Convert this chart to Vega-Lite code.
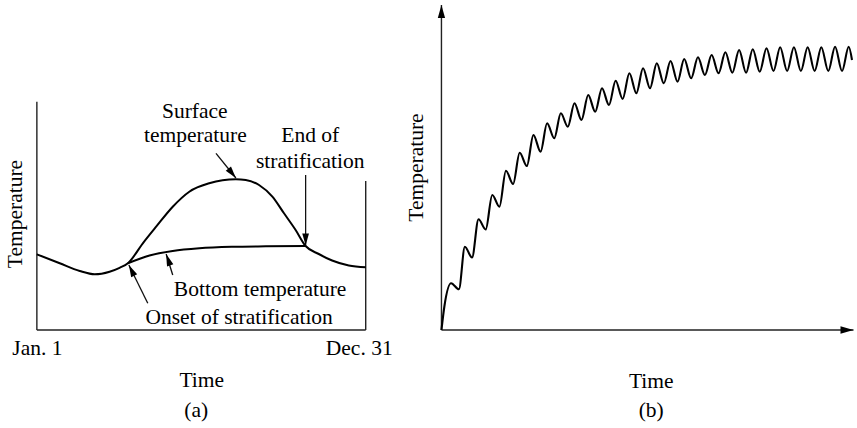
{
  "$schema": "https://vega.github.io/schema/vega-lite/v6.json",
  "width": 857,
  "height": 428,
  "autosize": {"type": "fit", "contains": "padding"},
  "padding": 0,
  "background": "white",
  "config": {
    "view": {"stroke": null},
    "text": {"font": "Liberation Serif", "fontSize": 21.5, "color": "#000000"}
  },
  "datasets": {
    "curveA": [
      {"series": "Surface", "day": 0, "T": 7.57},
      {"series": "Surface", "day": 25.4, "T": 6.67},
      {"series": "Surface", "day": 47.6, "T": 5.9},
      {"series": "Surface", "day": 64.2, "T": 5.57},
      {"series": "Surface", "day": 80.7, "T": 5.83},
      {"series": "Surface", "day": 91.8, "T": 6.22},
      {"series": "Surface", "day": 101.0, "T": 6.67},
      {"series": "Surface", "day": 117.6, "T": 8.67},
      {"series": "Surface", "day": 132.4, "T": 10.33},
      {"series": "Surface", "day": 150.8, "T": 12.33},
      {"series": "Surface", "day": 169.2, "T": 13.83},
      {"series": "Surface", "day": 191.3, "T": 14.67},
      {"series": "Surface", "day": 220.9, "T": 15.07},
      {"series": "Surface", "day": 231.9, "T": 15.0},
      {"series": "Surface", "day": 246.6, "T": 14.5},
      {"series": "Surface", "day": 261.4, "T": 13.33},
      {"series": "Surface", "day": 274.3, "T": 11.67},
      {"series": "Surface", "day": 287.2, "T": 10.0},
      {"series": "Surface", "day": 298.3, "T": 8.4},
      {"series": "Surface", "day": 312.9, "T": 7.6},
      {"series": "Surface", "day": 327.7, "T": 6.95},
      {"series": "Surface", "day": 346.2, "T": 6.45},
      {"series": "Surface", "day": 365, "T": 6.27},
      {"series": "Bottom", "day": 101.0, "T": 6.67},
      {"series": "Bottom", "day": 125.0, "T": 7.45},
      {"series": "Bottom", "day": 150.8, "T": 7.9},
      {"series": "Bottom", "day": 180.3, "T": 8.17},
      {"series": "Bottom", "day": 217.1, "T": 8.32},
      {"series": "Bottom", "day": 254.1, "T": 8.37},
      {"series": "Bottom", "day": 298.3, "T": 8.4}
    ],
    "frameA": [
      {"day": 0, "T": 0, "day2": 0, "T2": 22.83},
      {"day": 0, "T": 0, "day2": 365, "T2": 0},
      {"day": 365, "T": 0, "day2": 365, "T2": 14.9}
    ],
    "arrowsA": [
      {"name": "surface", "day": 198.8, "T": 17.67, "day2": 220.9, "T2": 15.2},
      {"name": "end", "day": 298.3, "T": 15.5, "day2": 298.3, "T2": 8.45},
      {"name": "bottom", "day": 150.8, "T": 5.5, "day2": 143.5, "T2": 7.6},
      {"name": "onset", "day": 123.1, "T": 2.67, "day2": 102.1, "T2": 6.5}
    ],
    "labelsA": [
      {"label": "Surface", "day": 175.3, "T": 21.17},
      {"label": "temperature", "day": 175.9, "T": 18.8},
      {"label": "End of", "day": 303.4, "T": 18.83},
      {"label": "stratification", "day": 303.4, "T": 16.17},
      {"label": "Bottom temperature", "day": 247.8, "T": 3.4},
      {"label": "Onset of stratification", "day": 224.5, "T": 0.57},
      {"label": "Jan. 1", "day": 0.55, "T": -2.5},
      {"label": "Dec. 31", "day": 357.8, "T": -2.5},
      {"label": "Time", "day": 183.0, "T": -5.7},
      {"label": "(a)", "day": 176.9, "T": -8.7}
    ],
    "ytitleA": [{"label": "Temperature", "day": -23.2, "T": 11.6}],
    "curveB": [
      {"t": 0, "T": 0}, {"t": 0.3, "T": 2.4},
      {"t": 0.97, "T": 4.67}, {"t": 1.75, "T": 4.07},
      {"t": 2.35, "T": 8.33}, {"t": 3.07, "T": 7.25},
      {"t": 3.72, "T": 11.07}, {"t": 4.44, "T": 10.05},
      {"t": 5.10, "T": 13.5}, {"t": 5.82, "T": 12.33},
      {"t": 6.47, "T": 15.93}, {"t": 7.19, "T": 14.6},
      {"t": 7.85, "T": 17.73}, {"t": 8.57, "T": 16.4},
      {"t": 9.23, "T": 19.5}, {"t": 9.95, "T": 17.83},
      {"t": 10.60, "T": 20.67}, {"t": 11.32, "T": 19.17},
      {"t": 11.98, "T": 21.67}, {"t": 12.68, "T": 20.33},
      {"t": 13.35, "T": 22.67}, {"t": 14.05, "T": 21.0},
      {"t": 14.73, "T": 23.5}, {"t": 15.43, "T": 21.83},
      {"t": 16.11, "T": 24.17}, {"t": 16.81, "T": 22.5},
      {"t": 17.48, "T": 24.93}, {"t": 18.18, "T": 23.1},
      {"t": 18.86, "T": 25.67}, {"t": 19.56, "T": 23.67},
      {"t": 20.23, "T": 26.17}, {"t": 20.93, "T": 24.17},
      {"t": 21.61, "T": 26.67}, {"t": 22.31, "T": 24.67},
      {"t": 22.99, "T": 26.9}, {"t": 23.69, "T": 24.83},
      {"t": 24.36, "T": 27.1}, {"t": 25.06, "T": 25.17},
      {"t": 25.74, "T": 27.27}, {"t": 26.44, "T": 25.5},
      {"t": 27.11, "T": 27.5}, {"t": 27.81, "T": 25.67},
      {"t": 28.49, "T": 27.77}, {"t": 29.19, "T": 25.73},
      {"t": 29.87, "T": 28.0}, {"t": 30.57, "T": 25.73},
      {"t": 31.24, "T": 28.07}, {"t": 31.94, "T": 25.83},
      {"t": 32.62, "T": 28.17}, {"t": 33.32, "T": 25.9},
      {"t": 33.99, "T": 28.27}, {"t": 34.69, "T": 25.9},
      {"t": 35.37, "T": 28.27}, {"t": 36.07, "T": 25.9},
      {"t": 36.75, "T": 28.27}, {"t": 37.45, "T": 25.9},
      {"t": 38.12, "T": 28.27}, {"t": 38.82, "T": 25.9},
      {"t": 39.50, "T": 28.33}, {"t": 40.20, "T": 25.9},
      {"t": 40.87, "T": 28.33}, {"t": 41.2, "T": 27.0}
    ],
    "axesB": [
      {"name": "y", "t": 0, "T": 0, "t2": 0, "T2": 32.5},
      {"name": "x", "t": 0, "T": 0, "t2": 41.35, "T2": 0}
    ],
    "labelsB": [
      {"label": "Time", "t": 21.05, "T": -5.77},
      {"label": "(b)", "t": 21.05, "T": -8.7}
    ],
    "ytitleB": [{"label": "Temperature", "t": -2.5, "T": 16.25}]
  },
  "layer": [
    {
      "encoding": {
        "x": {"field": "day", "type": "quantitative", "scale": {"domain": [-40.92, 906.97], "nice": false, "zero": false}, "axis": null},
        "y": {"field": "T", "type": "quantitative", "scale": {"domain": [-9.8, 33], "nice": false, "zero": false}, "axis": null}
      },
      "layer": [
        {
          "data": {"name": "frameA"},
          "mark": {"type": "rule", "color": "#222222", "strokeWidth": 1.4},
          "encoding": {"x2": {"field": "day2"}, "y2": {"field": "T2"}}
        },
        {
          "data": {"name": "curveA"},
          "mark": {"type": "line", "interpolate": "monotone", "color": "#000000", "strokeWidth": 2},
          "encoding": {"detail": {"field": "series", "type": "nominal"}}
        },
        {
          "data": {"name": "arrowsA"},
          "mark": {"type": "rule", "color": "#111111", "strokeWidth": 1.3},
          "encoding": {"x2": {"field": "day2"}, "y2": {"field": "T2"}}
        },
        {
          "data": {"name": "arrowsA"},
          "transform": [{"filter": "datum.name === 'surface'"}],
          "mark": {"type": "point", "shape": "M0,0L0.28,1L-0.28,1Z", "size": 576, "angle": 141.3, "filled": true, "opacity": 1, "color": "#000000"},
          "encoding": {"x": {"field": "day2", "type": "quantitative"}, "y": {"field": "T2", "type": "quantitative"}}
        },
        {
          "data": {"name": "arrowsA"},
          "transform": [{"filter": "datum.name === 'end'"}],
          "mark": {"type": "point", "shape": "M0,0L0.28,1L-0.28,1Z", "size": 576, "angle": 180, "filled": true, "opacity": 1, "color": "#000000"},
          "encoding": {"x": {"field": "day2", "type": "quantitative"}, "y": {"field": "T2", "type": "quantitative"}}
        },
        {
          "data": {"name": "arrowsA"},
          "transform": [{"filter": "datum.name === 'bottom'"}],
          "mark": {"type": "point", "shape": "M0,0L0.28,1L-0.28,1Z", "size": 576, "angle": -19.6, "filled": true, "opacity": 1, "color": "#000000"},
          "encoding": {"x": {"field": "day2", "type": "quantitative"}, "y": {"field": "T2", "type": "quantitative"}}
        },
        {
          "data": {"name": "arrowsA"},
          "transform": [{"filter": "datum.name === 'onset'"}],
          "mark": {"type": "point", "shape": "M0,0L0.28,1L-0.28,1Z", "size": 576, "angle": -26.4, "filled": true, "opacity": 1, "color": "#000000"},
          "encoding": {"x": {"field": "day2", "type": "quantitative"}, "y": {"field": "T2", "type": "quantitative"}}
        },
        {
          "data": {"name": "labelsA"},
          "mark": {"type": "text", "align": "center", "baseline": "alphabetic"},
          "encoding": {"text": {"field": "label", "type": "nominal"}}
        },
        {
          "data": {"name": "ytitleA"},
          "mark": {"type": "text", "align": "center", "baseline": "middle", "angle": 270},
          "encoding": {"text": {"field": "label", "type": "nominal"}}
        }
      ]
    },
    {
      "encoding": {
        "x": {"field": "t", "type": "quantitative", "scale": {"domain": [-44.3, 41.4], "nice": false, "zero": false}, "axis": null},
        "y": {"field": "T", "type": "quantitative", "scale": {"domain": [-9.8, 33], "nice": false, "zero": false}, "axis": null}
      },
      "layer": [
        {
          "data": {"name": "axesB"},
          "mark": {"type": "rule", "color": "#222222", "strokeWidth": 1.4},
          "encoding": {"x2": {"field": "t2"}, "y2": {"field": "T2"}}
        },
        {
          "data": {"name": "axesB"},
          "transform": [{"filter": "datum.name === 'y'"}],
          "mark": {"type": "point", "shape": "M0,0L0.28,1L-0.28,1Z", "size": 676, "angle": 0, "filled": true, "opacity": 1, "color": "#000000"},
          "encoding": {"x": {"field": "t2", "type": "quantitative"}, "y": {"field": "T2", "type": "quantitative"}}
        },
        {
          "data": {"name": "axesB"},
          "transform": [{"filter": "datum.name === 'x'"}],
          "mark": {"type": "point", "shape": "M0,0L0.28,1L-0.28,1Z", "size": 676, "angle": 90, "filled": true, "opacity": 1, "color": "#000000"},
          "encoding": {"x": {"field": "t2", "type": "quantitative"}, "y": {"field": "T2", "type": "quantitative"}}
        },
        {
          "data": {"name": "curveB"},
          "mark": {"type": "line", "interpolate": "monotone", "color": "#000000", "strokeWidth": 2.1}
        },
        {
          "data": {"name": "labelsB"},
          "mark": {"type": "text", "align": "center", "baseline": "alphabetic"},
          "encoding": {"text": {"field": "label", "type": "nominal"}}
        },
        {
          "data": {"name": "ytitleB"},
          "mark": {"type": "text", "align": "center", "baseline": "middle", "angle": 270},
          "encoding": {"text": {"field": "label", "type": "nominal"}}
        }
      ]
    }
  ],
  "resolve": {"scale": {"x": "independent"}}
}
